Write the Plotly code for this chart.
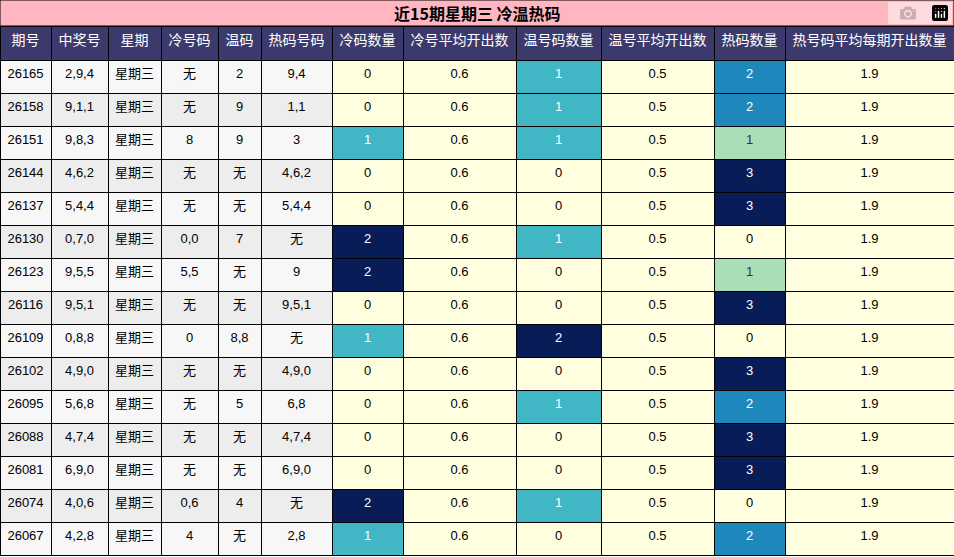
import plotly.graph_objects as go
from plotly.colors import sample_colorscale

periods = ["26165", "26158", "26151", "26144", "26137", "26130", "26123", "26116",
           "26109", "26102", "26095", "26088", "26081", "26074", "26067"]
draws = ["2,9,4", "9,1,1", "9,8,3", "4,6,2", "5,4,4", "0,7,0", "9,5,5", "9,5,1",
         "0,8,8", "4,9,0", "5,6,8", "4,7,4", "6,9,0", "4,0,6", "4,2,8"]
weekday = ["星期三"] * 15
cold_nums = ["无", "无", "8", "无", "无", "0,0", "5,5", "无", "0", "无", "无", "无", "无", "0,6", "4"]
warm_nums = ["2", "9", "9", "无", "无", "7", "无", "无", "8,8", "无", "5", "无", "无", "4", "无"]
hot_nums = ["9,4", "1,1", "3", "4,6,2", "5,4,4", "无", "9", "9,5,1", "无", "4,9,0", "6,8", "4,7,4", "6,9,0", "无", "2,8"]
cold_cnt = [0, 0, 1, 0, 0, 2, 2, 0, 1, 0, 0, 0, 0, 2, 1]
cold_avg = [0.6] * 15
warm_cnt = [1, 1, 1, 0, 0, 1, 0, 0, 2, 0, 1, 0, 0, 1, 0]
warm_avg = [0.5] * 15
hot_cnt = [2, 2, 1, 3, 3, 0, 1, 3, 0, 3, 2, 3, 3, 0, 2]
hot_avg = [1.9] * 15

headers = ["期号", "中奖号", "星期", "冷号码", "温码", "热码号码", "冷码数量", "冷号平均开出数",
           "温号码数量", "温号平均开出数", "热码数量", "热号码平均每期开出数量"]
col_widths = [51, 57, 53, 57, 43, 71, 71, 113, 85, 113, 71, 169]

YELLOW = "#FFFFE0"
grey = ["#F7F7F7" if i % 2 == 0 else "#EDEDED" for i in range(15)]

# colour scale: cold/warm 1 -> teal, 2 -> navy; hot 1 -> light green, 2 -> blue, 3 -> navy
cf = [YELLOW if v == 0 else sample_colorscale("YlGnBu", [0.5 * v])[0] for v in cold_cnt]
wf = [YELLOW if v == 0 else sample_colorscale("YlGnBu", [0.5 * v])[0] for v in warm_cnt]
hf = [YELLOW if v == 0 else sample_colorscale("YlGnBu", [0.30 + 0.35 * (v - 1)])[0] for v in hot_cnt]
cfo = ["black" if v == 0 else "white" for v in cold_cnt]
wfo = ["black" if v == 0 else "white" for v in warm_cnt]
hfo = ["black" if v == 0 else ("#333" if v == 1 else "white") for v in hot_cnt]

yel = [YELLOW] * 15
blk = ["black"] * 15
fills = [grey] * 6 + [cf, yel, wf, yel, hf, yel]
fonts = [blk] * 6 + [cfo, blk, wfo, blk, hfo, blk]

fig = go.Figure(go.Table(
    domain=dict(x=[0, 1], y=[0, 1 - 26 / 557]),
    columnwidth=col_widths,
    header=dict(values=headers, fill_color="#3C3A6C", line_color="black", line_width=1,
                font=dict(color="white", size=14, family="Noto Sans CJK SC"), height=34),
    cells=dict(values=[periods, draws, weekday, cold_nums, warm_nums, hot_nums,
                       cold_cnt, cold_avg, warm_cnt, warm_avg, hot_cnt, hot_avg],
               fill_color=fills, line_color="black", line_width=1,
               font=dict(color=fonts, size=13, family="Liberation Sans, Noto Sans CJK SC"),
               height=33, align="center"),
))

fig.add_shape(type="rect", xref="paper", yref="paper", x0=0, x1=1, y0=1 - 26 / 557, y1=1,
              fillcolor="#FFB6C1", line=dict(color="black", width=1), layer="below")
fig.add_annotation(text="<b>近15期星期三 冷温热码</b>", xref="paper", yref="paper",
                   x=0.5, y=1 - 13 / 557, yanchor="middle", showarrow=False,
                   font=dict(size=16, color="black", family="Noto Sans CJK SC"))

fig.update_layout(width=954, height=557, margin=dict(l=0, r=0, t=0, b=0),
                  paper_bgcolor="white")
fig.write_html("out.html")

# drop the default body margin so the figure sits at the window's corner
with open("out.html", encoding="utf-8") as f:
    html = f.read()
html = html.replace("<body>", '<body style="margin:0;overflow:hidden">', 1)
with open("out.html", "w", encoding="utf-8") as f:
    f.write(html)
